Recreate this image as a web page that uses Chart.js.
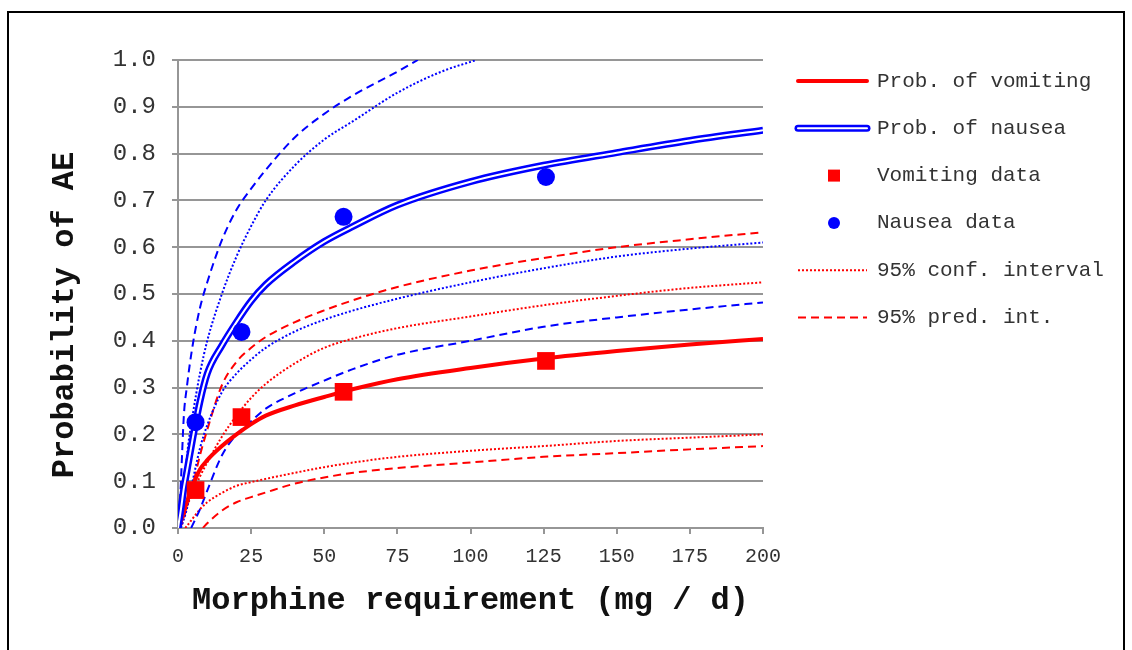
<!DOCTYPE html>
<html>
<head>
<meta charset="utf-8">
<script src="https://cdn.jsdelivr.net/npm/chart.js@4.4.1/dist/chart.umd.min.js"></script>
<style>
  html, body { margin: 0; padding: 0; background: #fff; }
  #wrap { width: 1132px; height: 650px; }
</style>
</head>
<body>
<div id="wrap"><canvas id="aeChart" width="1132" height="650"></canvas></div>
<script>
// observed rates
var doseObs = [6, 21.7, 56.6, 125.8];
var vomitObs = [0.081, 0.237, 0.291, 0.357];
var nauseaObs = [0.226, 0.419, 0.665, 0.75];

// fitted curves
var fitX = [0, 1, 2, 3, 5, 7.5, 10, 15, 20, 25, 30, 40, 50, 60, 75, 100, 125, 150, 175, 200];
var vomitFit = [0, 0.015, 0.035, 0.055, 0.09, 0.125, 0.145, 0.175, 0.2, 0.222, 0.24, 0.262, 0.28, 0.297, 0.318, 0.342, 0.362, 0.378, 0.392, 0.404];
var nauseaFit = [0, 0.04, 0.085, 0.12, 0.19, 0.27, 0.33, 0.39, 0.44, 0.485, 0.52, 0.57, 0.612, 0.645, 0.69, 0.74, 0.775, 0.802, 0.828, 0.85];

// vomiting intervals
var vomitConfHi = [0, 0.01, 0.025, 0.045, 0.075, 0.11, 0.14, 0.195, 0.24, 0.278, 0.308, 0.352, 0.385, 0.405, 0.427, 0.452, 0.476, 0.496, 0.513, 0.525];
var vomitPredHi = [0, 0.005, 0.02, 0.05, 0.09, 0.155, 0.21, 0.305, 0.355, 0.385, 0.408, 0.44, 0.465, 0.487, 0.515, 0.55, 0.577, 0.6, 0.617, 0.632];
var vomitConfLoX = [2.5, 5, 7.5, 10, 15, 20, 25, 30, 40, 50, 60, 75, 100, 125, 150, 175, 200];
var vomitConfLo = [0, 0.02, 0.04, 0.055, 0.075, 0.09, 0.098, 0.105, 0.118, 0.13, 0.14, 0.152, 0.165, 0.175, 0.186, 0.193, 0.2];
var vomitPredLoX = [8.5, 10, 15, 20, 25, 30, 40, 50, 60, 75, 100, 125, 150, 175, 200];
var vomitPredLo = [0, 0.01, 0.037, 0.055, 0.066, 0.076, 0.095, 0.108, 0.118, 0.128, 0.14, 0.152, 0.16, 0.168, 0.175];

// nausea intervals
var nauseaConfHiX = [0, 1, 2, 3, 5, 7.5, 10, 15, 20, 25, 30, 40, 50, 60, 75, 90, 102];
var nauseaConfHi = [0, 0.02, 0.07, 0.15, 0.24, 0.33, 0.4, 0.5, 0.58, 0.645, 0.7, 0.775, 0.83, 0.87, 0.93, 0.975, 1.0];
var nauseaPredHiX = [0, 0.5, 1, 2, 3, 5, 7.5, 10, 15, 20, 25, 30, 40, 50, 60, 75, 82];
var nauseaPredHi = [0, 0.04, 0.1, 0.24, 0.3, 0.39, 0.47, 0.525, 0.615, 0.68, 0.725, 0.765, 0.835, 0.885, 0.925, 0.975, 1.0];
var nauseaConfLoX = [1, 3, 5, 7.5, 10, 15, 20, 25, 30, 40, 50, 60, 75, 100, 125, 150, 175, 200];
var nauseaConfLo = [0, 0.04, 0.1, 0.17, 0.22, 0.29, 0.33, 0.36, 0.385, 0.42, 0.445, 0.465, 0.49, 0.525, 0.555, 0.58, 0.597, 0.61];
var nauseaPredLoX = [4.5, 7.5, 10, 15, 20, 25, 30, 40, 50, 60, 75, 100, 125, 150, 175, 200];
var nauseaPredLo = [0, 0.04, 0.08, 0.155, 0.2, 0.228, 0.255, 0.288, 0.315, 0.34, 0.37, 0.4, 0.43, 0.45, 0.467, 0.482];

var xTicks = [0, 25, 50, 75, 100, 125, 150, 175, 200];
var legendNames = ['Prob. of vomiting', 'Prob. of nausea', 'Vomiting data', 'Nausea data', '95% conf. interval', '95% pred. int.'];

var RED = '#ff0000';
var BLUE = '#0000ff';
var GRID = '#969696';
var MONO = '"Liberation Mono", "Courier New", monospace';

function pts(xs, ys) {
  return xs.map(function(x, i) { return { x: x, y: ys[i] }; });
}

function curve(xs, ys, color, width, dash, order) {
  return {
    data: pts(xs, ys),
    showLine: true,
    borderColor: color,
    backgroundColor: color,
    borderWidth: width,
    borderDash: dash,
    pointRadius: 0,
    cubicInterpolationMode: 'monotone',
    order: order
  };
}

var dotted = [2, 2];
var dashed = [8, 5];

var datasets = [
  { data: pts(doseObs, vomitObs), pointStyle: 'rect', pointRadius: 12.5, backgroundColor: RED, borderWidth: 0, order: 0 },
  { data: pts(doseObs, nauseaObs), pointStyle: 'circle', pointRadius: 9, backgroundColor: BLUE, borderWidth: 0, order: 0 },
  curve(fitX, nauseaFit, '#ffffff', 2, [], 1),
  curve(fitX, nauseaFit, BLUE, 7, [], 2),
  curve(fitX, vomitFit, RED, 4, [], 3),
  curve(fitX, vomitConfHi, RED, 2, dotted, 5),
  curve(fitX, vomitPredHi, RED, 2, dashed, 5),
  curve(vomitConfLoX, vomitConfLo, RED, 2, dotted, 5),
  curve(vomitPredLoX, vomitPredLo, RED, 2, dashed, 5),
  curve(nauseaConfHiX, nauseaConfHi, BLUE, 2, dotted, 4),
  curve(nauseaPredHiX, nauseaPredHi, BLUE, 2, dashed, 4),
  curve(nauseaConfLoX, nauseaConfLo, BLUE, 2, dotted, 4),
  curve(nauseaPredLoX, nauseaPredLo, BLUE, 2, dashed, 4)
];

// border, y title and the legend on the right
var decor = {
  id: 'decor',
  beforeDraw: function(chart) {
    var ctx = chart.ctx;
    ctx.save();
    ctx.fillStyle = '#fff';
    ctx.fillRect(0, 0, chart.width, chart.height);
    ctx.restore();
  },
  afterDraw: function(chart) {
    var ctx = chart.ctx;
    ctx.save();
    ctx.strokeStyle = '#000';
    ctx.lineWidth = 2;
    ctx.strokeRect(8, 12, 1116, 660);

    ctx.translate(65, 315);
    ctx.rotate(-Math.PI / 2);
    ctx.fillStyle = '#111';
    ctx.font = 'bold 32px ' + MONO;
    ctx.textAlign = 'center';
    ctx.textBaseline = 'middle';
    ctx.fillText('Probability of AE', 0, 0);
    ctx.restore();

    var x0 = 798, x1 = 867, tx = 877, y0 = 81, step = 47.3;
    ctx.save();
    ctx.font = '21px ' + MONO;
    ctx.textBaseline = 'middle';
    ctx.lineCap = 'round';
    legendNames.forEach(function(name, i) {
      var y = y0 + i * step;
      ctx.setLineDash([]);
      if (i === 0) {
        ctx.strokeStyle = RED; ctx.lineWidth = 4;
        ctx.beginPath(); ctx.moveTo(x0, y); ctx.lineTo(x1, y); ctx.stroke();
      } else if (i === 1) {
        ctx.strokeStyle = BLUE; ctx.lineWidth = 7;
        ctx.beginPath(); ctx.moveTo(x0, y); ctx.lineTo(x1, y); ctx.stroke();
        ctx.strokeStyle = '#fff'; ctx.lineWidth = 2;
        ctx.beginPath(); ctx.moveTo(x0, y); ctx.lineTo(x1, y); ctx.stroke();
      } else if (i === 2) {
        ctx.fillStyle = RED;
        ctx.fillRect(828, y - 6, 12, 12);
      } else if (i === 3) {
        ctx.fillStyle = BLUE;
        ctx.beginPath(); ctx.arc(834, y, 6, 0, Math.PI * 2); ctx.fill();
      } else {
        ctx.lineCap = 'butt';
        ctx.strokeStyle = RED; ctx.lineWidth = 2;
        ctx.setLineDash(i === 4 ? dotted : dashed);
        ctx.beginPath(); ctx.moveTo(x0, y); ctx.lineTo(x1, y); ctx.stroke();
      }
      ctx.setLineDash([]);
      ctx.fillStyle = '#333';
      ctx.fillText(name, tx, y);
    });
    ctx.restore();
  }
};

new Chart(document.getElementById('aeChart'), {
  type: 'scatter',
  data: { datasets: datasets },
  options: {
    responsive: false,
    animation: false,
    layout: { padding: { left: 0, right: 369, top: 60, bottom: 0 } },
    plugins: { legend: { display: false }, tooltip: { enabled: false } },
    scales: {
      x: {
        type: 'linear',
        min: 0,
        max: 200,
        afterFit: function(s) { s.height = 122; },
        afterBuildTicks: function(s) { s.ticks = xTicks.map(function(v) { return { value: v }; }); },
        ticks: { color: '#333', font: { family: MONO, size: 20 }, padding: 11, maxRotation: 0 },
        grid: { drawOnChartArea: false, drawTicks: true, tickLength: 6, color: GRID, lineWidth: 2 },
        border: { display: true, color: GRID, width: 2 },
        title: {
          display: true,
          text: 'Morphine requirement (mg / d)',
          color: '#111',
          font: { family: MONO, size: 32, weight: 'bold' },
          padding: { top: 0, bottom: 30 }
        }
      },
      y: {
        type: 'linear',
        min: 0,
        max: 1,
        afterFit: function(s) { s.width = 178; },
        ticks: {
          stepSize: 0.1,
          color: '#333',
          font: { family: MONO, size: 24 },
          padding: 16,
          callback: function(v) { return v.toFixed(1); }
        },
        grid: { drawOnChartArea: true, drawTicks: true, tickLength: 6, color: GRID, lineWidth: 2 },
        border: { display: true, color: GRID, width: 2 }
      }
    }
  },
  plugins: [decor]
});
</script>
</body>
</html>
